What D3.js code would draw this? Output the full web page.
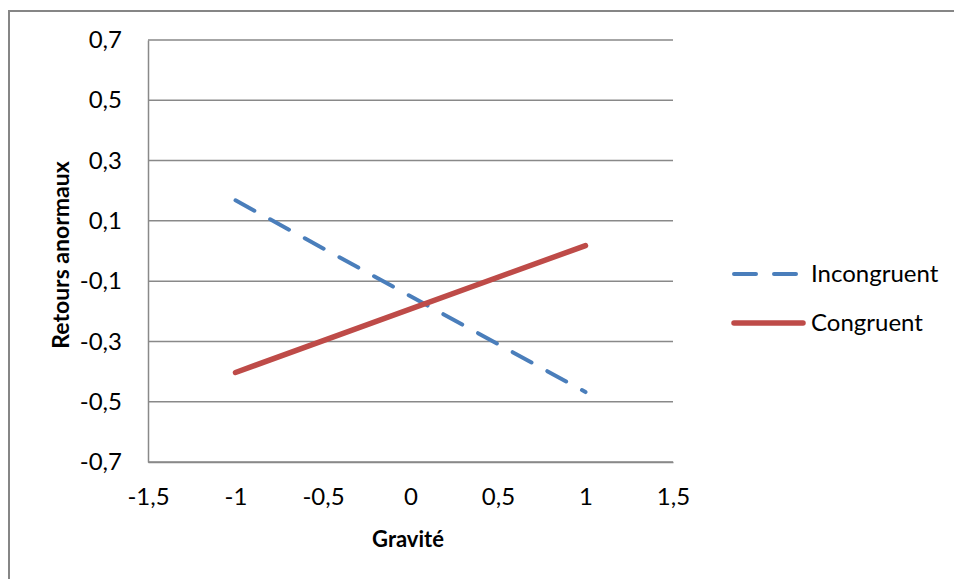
<!DOCTYPE html>
<html>
<head>
<meta charset="utf-8">
<script src="https://cdn.jsdelivr.net/npm/d3@7"></script>
<style>
  body { margin: 0; background: #fff; }
  svg text { font-family: Lato, "Open Sans", sans-serif; fill: #000; }
</style>
</head>
<body>
<svg id="chart" width="954" height="579"></svg>
<script>
// data
const gravite = [-1, 1];
const incongruent = [0.168, -0.468];
const congruent = [-0.403, 0.018];
const xTicks = [-1.5, -1, -0.5, 0, 0.5, 1, 1.5];
const yTicks = [-0.7, -0.5, -0.3, -0.1, 0.1, 0.3, 0.5, 0.7];
const seriesNames = ['Incongruent', 'Congruent'];

const width = 954;
const height = 579;
const margin = { top: 40, left: 148, right: 281, bottom: 117 };

const svg = d3.select('#chart');
const fmt = (v) => d3.format('.1~f')(v).replace('.', ',').replace('−', '-');

// outer chart border (runs off the bottom/right of the picture)
svg.append('rect')
  .attr('x', 9).attr('y', 11)
  .attr('width', width + 20).attr('height', height + 20)
  .attr('fill', 'none')
  .attr('stroke', '#868686')
  .attr('stroke-width', 2);

const x = d3.scaleLinear()
  .domain([-1.5, 1.5])
  .range([margin.left, width - margin.right]);

const y = d3.scaleLinear()
  .domain([-0.7, 0.7])
  .range([height - margin.bottom, margin.top]);

// horizontal gridlines
svg.append('g')
  .selectAll('line')
  .data(yTicks)
  .enter().append('line')
  .attr('x1', x(-1.5)).attr('x2', x(1.5))
  .attr('y1', (d) => y(d)).attr('y2', (d) => y(d))
  .attr('stroke', '#898989')
  .attr('stroke-width', 1.5);

// y axis
const yAxis = svg.append('g')
  .attr('transform', `translate(${margin.left},0)`)
  .call(d3.axisLeft(y).tickValues(yTicks).tickFormat(fmt).tickSize(0).tickPadding(26));
yAxis.select('.domain').attr('stroke', '#898989').attr('stroke-width', 1.5);
yAxis.selectAll('text').style('font-size', '24px').style('font-family', 'Lato, sans-serif');

// x axis
const xAxis = svg.append('g')
  .attr('transform', `translate(0,${y(-0.7)})`)
  .call(d3.axisBottom(x).tickValues(xTicks).tickFormat(fmt).tickSize(0).tickPadding(26));
xAxis.select('.domain').attr('stroke', '#898989').attr('stroke-width', 1.5);
xAxis.selectAll('text').style('font-size', '24px').style('font-family', 'Lato, sans-serif');

// axis titles
svg.append('text')
  .attr('x', 408).attr('y', 547)
  .attr('text-anchor', 'middle')
  .style('font-size', '22px').style('font-weight', 'bold')
  .text('Gravité');

svg.append('text')
  .attr('transform', 'translate(69,255) rotate(-90)')
  .attr('text-anchor', 'middle')
  .style('font-size', '23px').style('font-weight', 'bold')
  .text('Retours anormaux');

const line = d3.line()
  .x((d) => x(d[0]))
  .y((d) => y(d[1]));

const series = [
  { name: seriesNames[0], values: incongruent, color: '#4A7EBB', width: 4, dash: '21.5 18' },
  { name: seriesNames[1], values: congruent, color: '#BE4B48', width: 5.5, dash: null }
];

series.forEach((s) => {
  svg.append('path')
    .datum(gravite.map((g, i) => [g, s.values[i]]))
    .attr('d', line)
    .attr('fill', 'none')
    .attr('stroke', s.color)
    .attr('stroke-width', s.width)
    .attr('stroke-linecap', 'round')
    .attr('stroke-dasharray', s.dash);
});

// legend
const legend = svg.append('g')
  .selectAll('g')
  .data(series)
  .enter().append('g')
  .attr('transform', (d, i) => `translate(732,${274 + i * 49})`);

legend.append('line')
  .attr('x1', 2).attr('x2', 71)
  .attr('stroke', (d) => d.color)
  .attr('stroke-width', (d) => d.width)
  .attr('stroke-linecap', 'round')
  .attr('stroke-dasharray', (d) => (d.dash ? '22 18' : null));

legend.append('text')
  .attr('x', 79)
  .attr('dy', '0.35em')
  .style('font-size', '24px')
  .text((d) => d.name);
</script>
</body>
</html>
